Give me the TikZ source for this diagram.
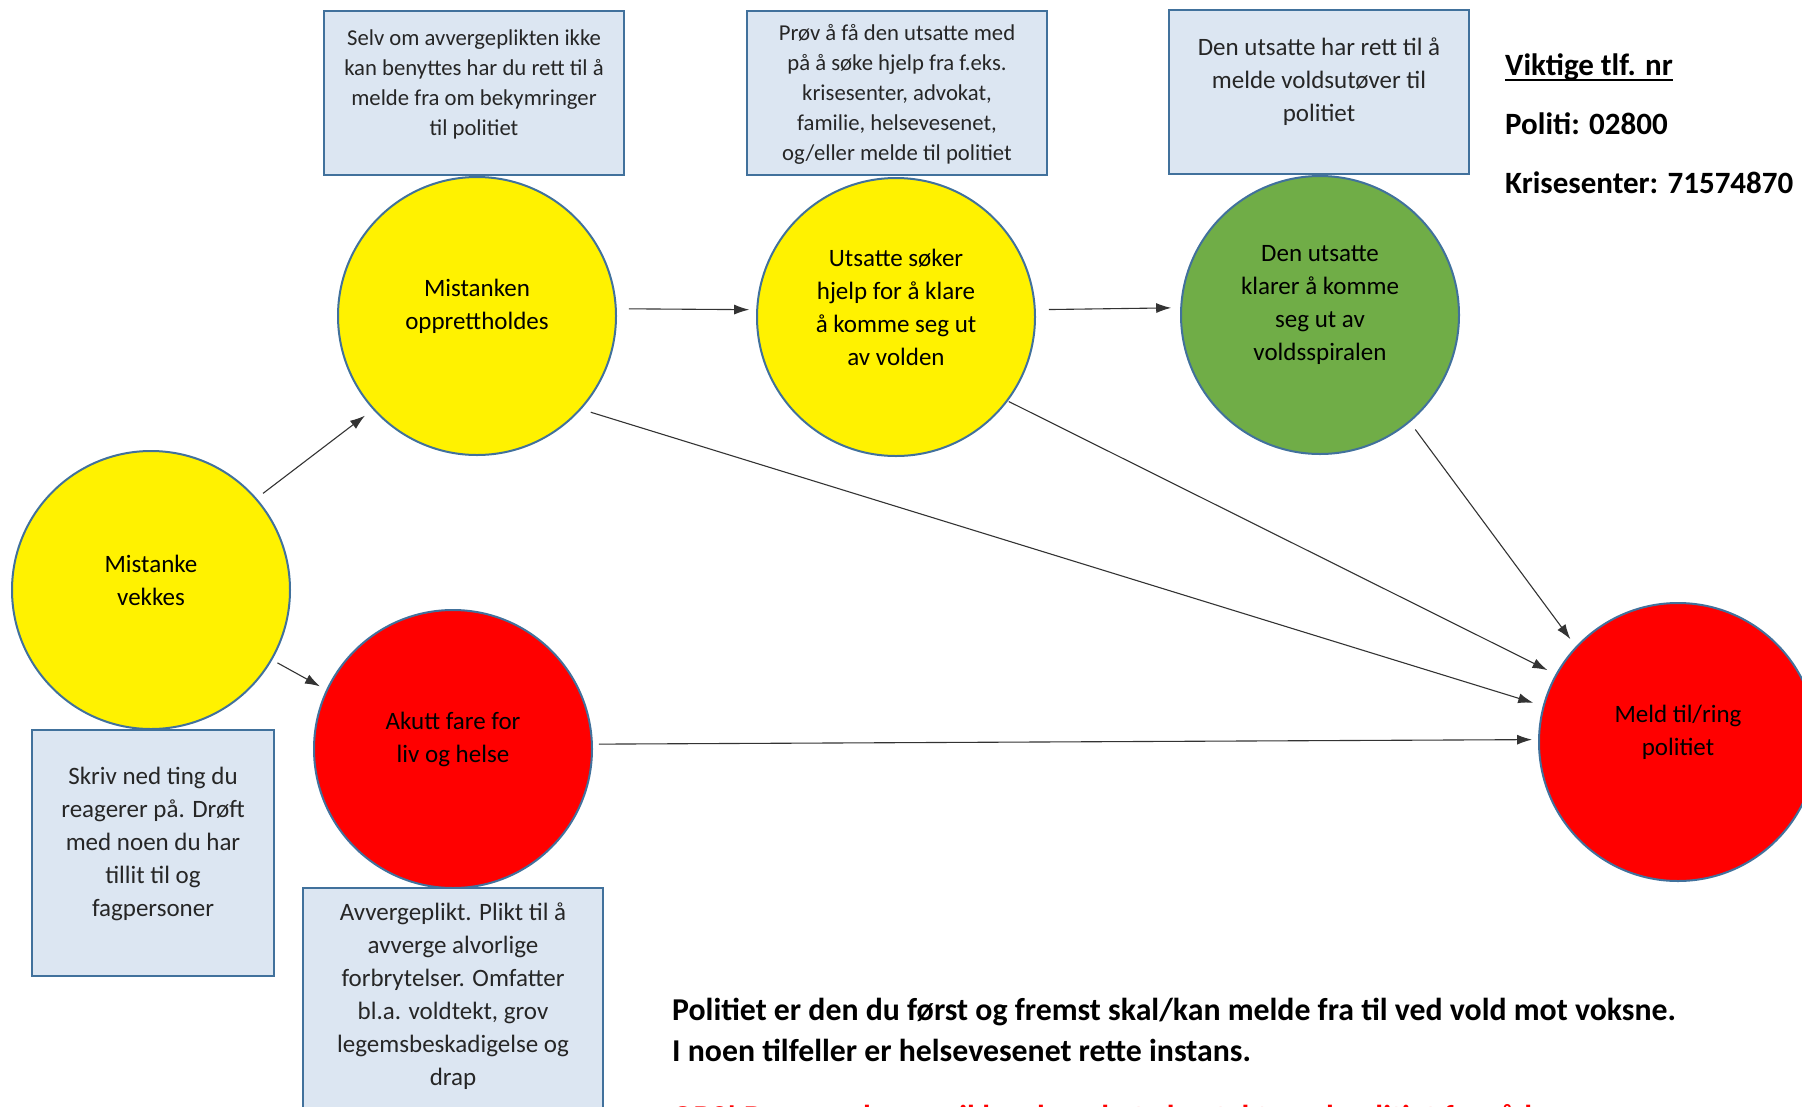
\documentclass[tikz,border=0pt]{standalone}
\usepackage{fontspec}
\setmainfont{Carlito}
\usetikzlibrary{arrows.meta}

\definecolor{edgeblue}{RGB}{65,113,156}
\definecolor{boxfill}{RGB}{220,230,242}
\definecolor{grassgreen}{RGB}{112,173,71}

\begin{document}
\begin{tikzpicture}[x=1pt, y=-1pt,
    bubble/.style={circle, draw=edgeblue, line width=2pt, minimum size=278pt, inner sep=0pt, outer sep=0pt},
    bubbletext/.style={align=center, font=\fontsize{25}{33}\selectfont, inner sep=0pt},
    infobox/.style={rectangle, draw=edgeblue, fill=boxfill, line width=2.5pt, inner sep=0pt, outer sep=0pt},
    boxtext/.style={align=center, font=\fontsize{25}{33}\selectfont, text=black!85, inner sep=0pt},
    smallboxtext/.style={boxtext, font=\fontsize{22.7}{30}\selectfont},
    arr/.style={-{Latex[length=15pt,width=10pt]}, line width=1.1pt, draw=black!80},
    phone/.style={anchor=base west, font=\fontsize{31}{37}\selectfont\bfseries, inner sep=0pt},
    bottomtext/.style={anchor=base west, font=\fontsize{31.8}{38}\selectfont\bfseries, inner sep=0pt}]

    \clip (0,0) rectangle (1802,1106);

    % Circles
    \node[bubble, fill=yellow] (vekkes) at (151,590) {};
    \node[bubble, fill=yellow] (opprett) at (477,316) {};
    \node[bubble, fill=yellow] (soker) at (896,317) {};
    \node[bubble, fill=grassgreen] (klarer) at (1320,315) {};
    \node[bubble, fill=red] (akutt) at (453,749) {};
    \node[bubble, fill=red] (meld) at (1678,742) {};

    \node[bubbletext] (vekkestxt) at ([yshift=10pt]vekkes.center) {Mistanke\\vekkes};
    \node[bubbletext] (opprettxt) at ([yshift=10pt]opprett.center) {Mistanken\\opprettholdes};
    \node[bubbletext] (sokertxt) at ([yshift=10pt]soker.center) {Utsatte søker\\hjelp for å klare\\å komme seg ut\\av volden};
    \node[bubbletext] (klarertxt) at ([yshift=10pt]klarer.center) {Den utsatte\\klarer å komme\\seg ut av\\voldsspiralen};
    \node[bubbletext] (akutttxt) at ([yshift=10pt]akutt.center) {Akutt fare for\\liv og helse};
    \node[bubbletext] (meldtxt) at ([yshift=10pt]meld.center) {Meld til/ring\\politiet};

    % Info boxes
    \node[infobox, minimum width=300pt, minimum height=164pt] (infoopprett) at (474,93) {};
    \node[infobox, minimum width=300pt, minimum height=164pt] (infosoker) at (897,93) {};
    \node[infobox, minimum width=300pt, minimum height=164pt] (infoklarer) at (1319,92) {};
    \node[infobox, minimum width=242pt, minimum height=246pt] (infovekkes) at (153,853) {};
    \node[infobox, minimum width=300pt, minimum height=242pt] (infoakutt) at (453,1009) {};

    \node[smallboxtext] (infooppretttxt) at (474,84) {Selv om avvergeplikten ikke\\kan benyttes har du rett til å\\melde fra om bekymringer\\til politiet};
    \node[smallboxtext] (infosokertxt) at (897,94) {Prøv å få den utsatte med\\på å søke hjelp fra f.eks.\\krisesenter, advokat,\\familie, helsevesenet,\\og/eller melde til politiet};
    \node[boxtext] (infoklarertxt) at (1319,82) {Den utsatte har rett til å\\melde voldsutøver til\\politiet};
    \node[boxtext] (infovekkestxt) at (153,844) {Skriv ned ting du\\reagerer på. Drøft\\med noen du har\\tillit til og\\fagpersoner};
    \node[boxtext] (infoakutttxt) at (453,996) {Avvergeplikt. Plikt til å\\avverge alvorlige\\forbrytelser. Omfatter\\bl.a. voldtekt, grov\\legemsbeskadigelse og\\drap};

    % Arrows
    \draw[arr, shorten <=9pt, shorten >=11pt] (vekkes.41) -- (opprett.-138);
    \draw[arr, shorten <=7pt, shorten >=8pt] (vekkes.-30) -- (akutt.155);
    \draw[arr, shorten <=13pt, shorten >=8pt] (opprett.3) -- (soker.177);
    \draw[arr, shorten <=14pt, shorten >=10pt] (soker.3) -- (klarer.177);
    \draw[arr, shorten <=10pt, shorten >=10pt] (klarer.-50) -- (meld.137);
    \draw[arr, shorten <=2pt, shorten >=10pt] (soker.-37) -- (meld.151);
    \draw[arr, shorten <=11pt, shorten >=11pt] (opprett.-42) -- (meld.165);
    \draw[arr, shorten <=7pt, shorten >=7pt] (akutt.2) -- (meld.179);

    % Phone numbers
    \node[phone] (viktig) at (1505,75) {Viktige tlf. nr};
    \draw[line width=2.5pt] ([yshift=-5pt]viktig.base west) -- ([yshift=-5pt]viktig.base east);
    \node[phone] (politi) at (1505,134) {Politi: 02800};
    \node[phone] (krise) at (1505,193) {Krisesenter: 71574870};

    % Bottom notes
    \node[bottomtext] (note1) at (672,1020) {Politiet er den du først og fremst skal/kan melde fra til ved vold mot voksne.};
    \node[bottomtext] (note2) at (672,1061) {I noen tilfeller er helsevesenet rette instans.};
    \node[bottomtext, text=red] (obs) at (672,1127) {OBS! Dersom du er usikker, kan du ta kontakt med politiet for råd};

\end{tikzpicture}
\end{document}
